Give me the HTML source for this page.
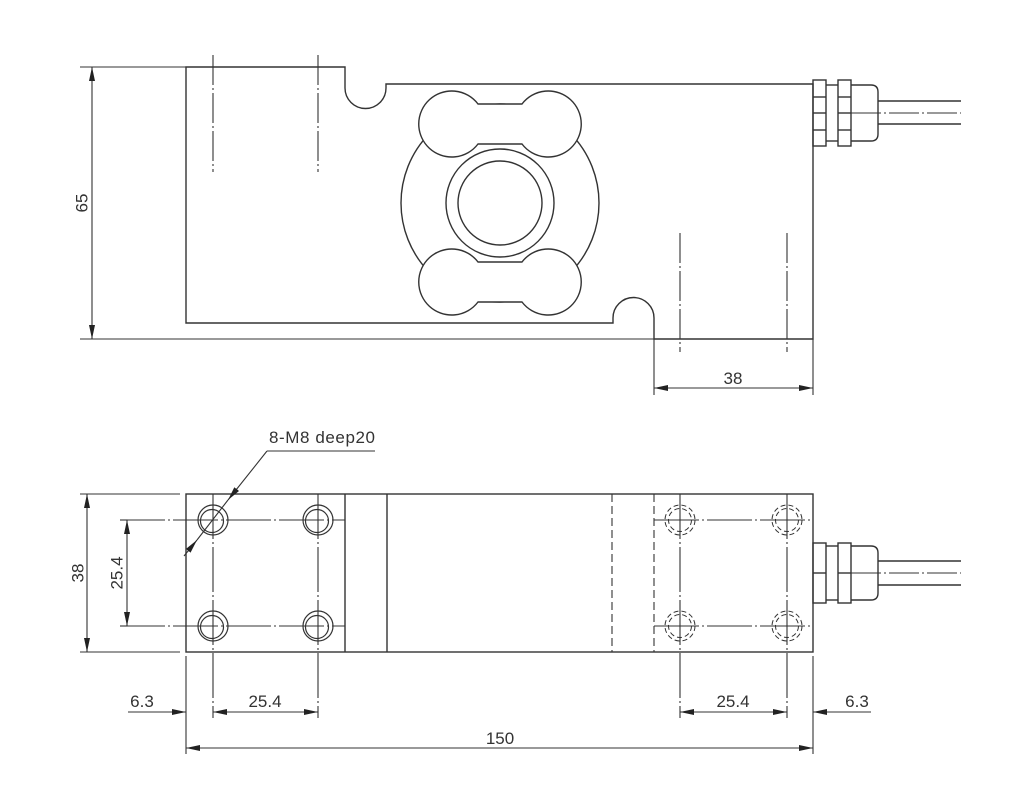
<!DOCTYPE html>
<html><head><meta charset="utf-8"><style>
html,body{margin:0;padding:0;background:#fff;}
svg{display:block}
text{font-family:"Liberation Sans",sans-serif;font-size:17px;fill:#333;}
</style></head><body>
<svg width="1024" height="801" viewBox="0 0 1024 801" xmlns="http://www.w3.org/2000/svg">
<defs>
<marker id="a" viewBox="0 0 14 6" refX="14" refY="3" markerWidth="14" markerHeight="6" markerUnits="userSpaceOnUse" orient="auto-start-reverse"><path d="M0,0 L14,3 L0,6 z" fill="#222"/></marker>
</defs>
<g fill="none" stroke="#333" stroke-width="1.4">
<path d="M186,67 L345,67 L345,88 A20,20 0 0 0 386,88 L386,84 L813,84 L813,339 L654,339 L654,318 A20.5,20.5 0 0 0 613,318 L613,323 L186,323 Z" fill="#fff"/>
<circle cx="500" cy="203" r="99"/>
<circle cx="500" cy="203" r="54"/>
<circle cx="500" cy="203" r="42"/>
<path d="M478,104 L522,104 A33,33 0 1 1 522,144 L478,144 A33,33 0 1 1 478,104 Z" fill="#fff"/>
<path d="M478,262 L522,262 A33,33 0 1 1 522,302 L478,302 A33,33 0 1 1 478,262 Z" fill="#fff"/>
<g stroke-width="1.1" stroke-dasharray="30,3,2,3">
<line x1="213" y1="55" x2="213" y2="172"/>
<line x1="318" y1="55" x2="318" y2="172"/>
<line x1="680" y1="233" x2="680" y2="352"/>
<line x1="787" y1="233" x2="787" y2="352"/>
<line x1="851" y1="113" x2="961" y2="113"/>
<line x1="851" y1="573" x2="961" y2="573"/>
</g>
<rect x="813" y="80" width="13" height="66"/>
<rect x="838" y="80" width="13" height="66"/>
<line x1="813" y1="97" x2="826" y2="97"/><line x1="813" y1="113" x2="826" y2="113"/><line x1="813" y1="130" x2="826" y2="130"/>
<line x1="838" y1="97" x2="851" y2="97"/><line x1="838" y1="113" x2="851" y2="113"/><line x1="838" y1="130" x2="851" y2="130"/>
<line x1="826" y1="85" x2="838" y2="85"/><line x1="826" y1="141" x2="838" y2="141"/>
<path d="M851,85 L871,85 Q878,85 878,92 L878,134 Q878,141 871,141 L851,141"/>
<line x1="878" y1="101" x2="961" y2="101"/><line x1="878" y1="124" x2="961" y2="124"/>
<g stroke-width="1.1">
<line x1="80" y1="67" x2="186" y2="67"/>
<line x1="80" y1="339" x2="654" y2="339"/>
<line x1="92" y1="67" x2="92" y2="339" marker-start="url(#a)" marker-end="url(#a)"/>
<line x1="654" y1="339" x2="654" y2="395"/>
<line x1="813" y1="339" x2="813" y2="395"/>
<line x1="654" y1="388" x2="813" y2="388" marker-start="url(#a)" marker-end="url(#a)"/>
</g>

<rect x="186" y="494" width="627" height="158"/>
<line x1="345" y1="494" x2="345" y2="652"/>
<line x1="387" y1="494" x2="387" y2="652"/>
<g stroke-dasharray="8,4" stroke-width="1.1">
<line x1="612" y1="494" x2="612" y2="652"/>
<line x1="654" y1="494" x2="654" y2="652"/>
</g>
<g stroke-width="1.2">
<circle cx="213" cy="520" r="15"/><circle cx="212" cy="521" r="11.5"/>
<circle cx="318" cy="520" r="15"/><circle cx="317" cy="521" r="11.5"/>
<circle cx="213" cy="626" r="15"/><circle cx="212" cy="627" r="11.5"/>
<circle cx="318" cy="626" r="15"/><circle cx="317" cy="627" r="11.5"/>
</g>
<g stroke-width="1" stroke-dasharray="5,3">
<circle cx="680" cy="520" r="15"/><circle cx="680" cy="520" r="11.5"/>
<circle cx="787" cy="520" r="15"/><circle cx="787" cy="520" r="11.5"/>
<circle cx="680" cy="626" r="15"/><circle cx="680" cy="626" r="11.5"/>
<circle cx="787" cy="626" r="15"/><circle cx="787" cy="626" r="11.5"/>
</g>
<g stroke-width="1.1" stroke-dasharray="45,3,2,3">
<line x1="120" y1="520" x2="345" y2="520"/>
<line x1="120" y1="626" x2="345" y2="626"/>
<line x1="654" y1="520" x2="813" y2="520"/>
<line x1="654" y1="626" x2="813" y2="626"/>
<line x1="213" y1="494" x2="213" y2="718"/>
<line x1="318" y1="494" x2="318" y2="718"/>
<line x1="680" y1="494" x2="680" y2="718"/>
<line x1="787" y1="494" x2="787" y2="718"/>
</g>
<rect x="813" y="543" width="13" height="60"/>
<rect x="838" y="543" width="13" height="60"/>
<line x1="813" y1="573" x2="826" y2="573"/><line x1="838" y1="573" x2="851" y2="573"/>
<line x1="826" y1="546" x2="838" y2="546"/><line x1="826" y1="600" x2="838" y2="600"/>
<path d="M851,546 L871,546 Q878,546 878,553 L878,593 Q878,600 871,600 L851,600"/>
<line x1="878" y1="561" x2="961" y2="561"/><line x1="878" y1="585" x2="961" y2="585"/>
<g stroke-width="1.1">
<line x1="80" y1="494" x2="180" y2="494"/>
<line x1="80" y1="652" x2="180" y2="652"/>
<line x1="87" y1="494" x2="87" y2="652" marker-start="url(#a)" marker-end="url(#a)"/>
<line x1="127" y1="520" x2="127" y2="626" marker-start="url(#a)" marker-end="url(#a)"/>
<line x1="186" y1="656" x2="186" y2="754"/>
<line x1="813" y1="656" x2="813" y2="754"/>
<line x1="128" y1="712" x2="186" y2="712" marker-end="url(#a)"/>
<line x1="213" y1="712" x2="318" y2="712" marker-start="url(#a)" marker-end="url(#a)"/>
<line x1="680" y1="712" x2="787" y2="712" marker-start="url(#a)" marker-end="url(#a)"/>
<line x1="871" y1="712" x2="813" y2="712" marker-end="url(#a)"/>
<line x1="186" y1="748" x2="813" y2="748" marker-start="url(#a)" marker-end="url(#a)"/>
<line x1="267" y1="451" x2="375" y2="451"/>
<line x1="267" y1="451" x2="228" y2="500" marker-end="url(#a)"/>
<line x1="184" y1="556" x2="197" y2="540" marker-end="url(#a)"/>
<line x1="197" y1="540" x2="228" y2="500"/>
</g>
</g>
<text x="82" y="203" text-anchor="middle" dominant-baseline="central" transform="rotate(-90 82 203)">65</text>
<text x="733" y="384" text-anchor="middle">38</text>
<text x="78" y="573" text-anchor="middle" dominant-baseline="central" transform="rotate(-90 78 573)">38</text>
<text x="117" y="573" text-anchor="middle" dominant-baseline="central" transform="rotate(-90 117 573)">25.4</text>
<text x="269" y="443" textLength="106" lengthAdjust="spacing">8-M8 deep20</text>
<text x="142" y="707" text-anchor="middle">6.3</text>
<text x="265" y="707" text-anchor="middle">25.4</text>
<text x="733" y="707" text-anchor="middle">25.4</text>
<text x="857" y="707" text-anchor="middle">6.3</text>
<text x="500" y="744" text-anchor="middle">150</text>
</svg>
</body></html>
